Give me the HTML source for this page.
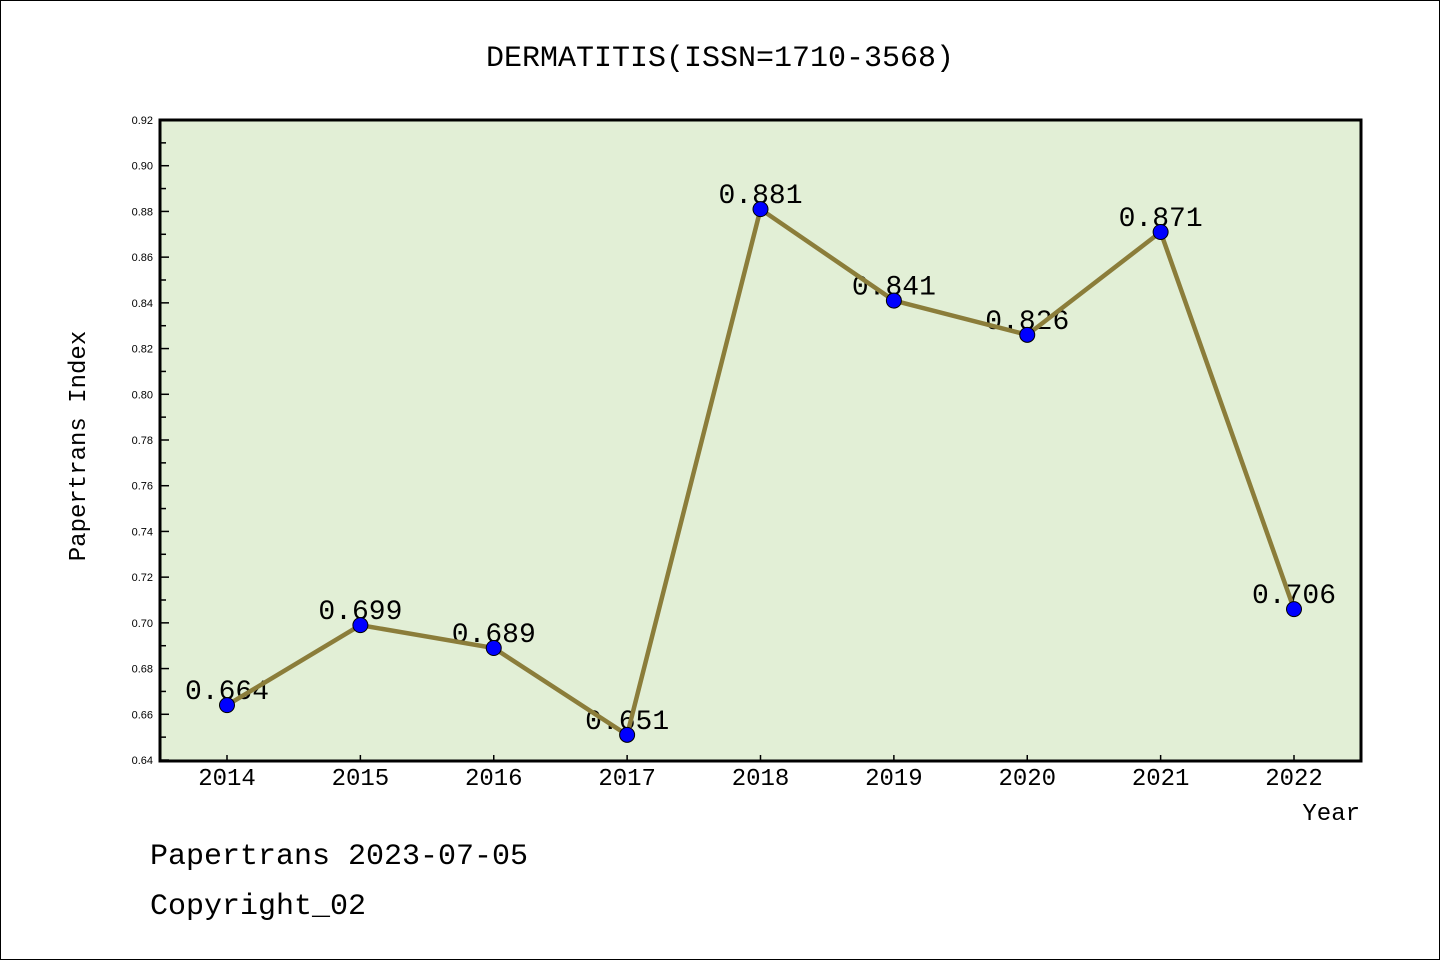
<!DOCTYPE html>
<html><head><meta charset="utf-8"><style>
body{margin:0;background:#fff}
svg{display:block}
text{font-family:"WenQuanYi Zen Hei Mono","WenQuanYi Zen Hei","Liberation Mono",monospace}
text.sans{font-family:"Liberation Sans",sans-serif}
</style></head><body>
<svg id="chart" width="1440" height="960">
<rect x="0.5" y="0.5" width="1439" height="959" fill="#fff" stroke="#000"/>
<text x="720" y="66" font-size="30" text-anchor="middle">DERMATITIS(ISSN=1710-3568)</text>
<rect x="160" y="120" width="1201" height="641" fill="#e2efd6"/>
<g id="axes"></g>
<g id="series"></g>
<rect x="160" y="120" width="1201" height="641" fill="none" stroke="#000" stroke-width="3"/>
<text transform="translate(85,446) rotate(-90)" font-size="24" text-anchor="middle">Papertrans Index</text>
<text x="1360" y="820" font-size="24" text-anchor="end">Year</text>
<text x="150" y="864" font-size="30">Papertrans 2023-07-05</text>
<text x="150" y="914" font-size="30">Copyright_02</text>
</svg>
<script>
const years=[2014,2015,2016,2017,2018,2019,2020,2021,2022];
const values=[0.664,0.699,0.689,0.651,0.881,0.841,0.826,0.871,0.706];
const valueLabels=["0.664","0.699","0.689","0.651","0.881","0.841","0.826","0.871","0.706"];
const yTicks=[0.64,0.66,0.68,0.70,0.72,0.74,0.76,0.78,0.80,0.82,0.84,0.86,0.88,0.90,0.92];
const NS="http://www.w3.org/2000/svg";
const yMin=0.64,yMax=0.92,plotTop=120,plotBot=760;
function ys(v){return plotBot-(v-yMin)/(yMax-yMin)*(plotBot-plotTop);}
function xs(i){return 227+i*(1294-227)/(years.length-1);}
function mk(tag,attrs,parent){const e=document.createElementNS(NS,tag);for(const k in attrs)e.setAttribute(k,attrs[k]);parent.appendChild(e);return e;}
const ax=document.getElementById('axes'),sr=document.getElementById('series');
yTicks.forEach((t,i)=>{
  const y=ys(t);
  const l=mk('line',{x1:160,x2:169,y1:y,y2:y,stroke:'#000','stroke-width':1.5},ax);
  
  
  const tx=mk('text',{x:153,y:y+4,'font-size':11,'text-anchor':'end','class':'sans'},ax);
  tx.textContent=t.toFixed(2);
  
  
  if(i<yTicks.length-1){const ym=ys(t+0.01);
    const m=mk('line',{x1:160,x2:166,y1:ym,y2:ym,stroke:'#000','stroke-width':1.5},ax);
    
    }
});
years.forEach((yr,i)=>{
  const x=xs(i);
  const l=mk('line',{x1:x,x2:x,y1:761,y2:755,stroke:'#000','stroke-width':1.5},ax);
  
  
  const tx=mk('text',{x:x,y:785,'font-size':24,'text-anchor':'middle'},ax);
  tx.textContent=yr;
  
  
});
values.forEach((v,i)=>{
  const tx=mk('text',{x:xs(i),y:ys(v)-6,'font-size':28,'text-anchor':'middle'},sr);
  tx.textContent=valueLabels[i];
  
  
});
const pl=mk('polyline',{points:values.map((v,i)=>xs(i)+','+ys(v)).join(' '),fill:'none',stroke:'#8b7d3a','stroke-width':4.5},sr);


values.forEach((v,i)=>{
  const c=mk('circle',{cx:xs(i),cy:ys(v),r:7.5,fill:'#0000ff',stroke:'#000','stroke-width':1},sr);
  
  
});
</script>
</body></html>
